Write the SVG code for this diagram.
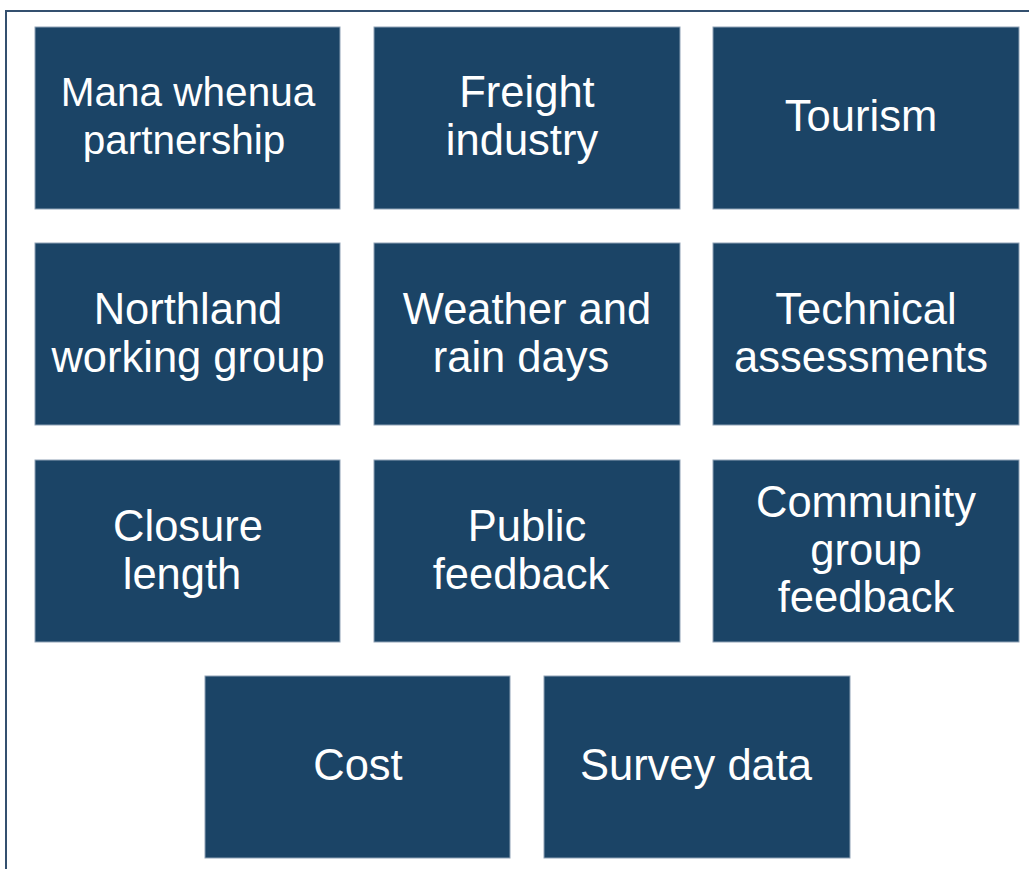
<svg xmlns="http://www.w3.org/2000/svg" width="1029" height="869" viewBox="0 0 1029 869">
<style>
.b{fill:#1b4466;stroke:#8fa2b6;stroke-width:1}
.t{fill:#ffffff;font-family:"Liberation Sans",Arial,sans-serif;font-size:43.5px;text-anchor:middle}
.s{font-size:40.5px}
</style>
<rect width="1029" height="869" fill="#ffffff"/>
<rect x="6" y="11" width="1100" height="1000" fill="none" stroke="#34506f" stroke-width="2"/>
<g id="n1"><rect class="b" x="35" y="27" width="305" height="182"/><text class="t s" x="188" y="106">Mana whenua</text><text class="t s" x="184" y="154">partnership</text></g>
<g id="n2"><rect class="b" x="374" y="27" width="306" height="182"/><text class="t" x="527" y="107">Freight</text><text class="t" x="522" y="155">industry</text></g>
<g id="n3"><rect class="b" x="713" y="27" width="306" height="182"/><text class="t" x="861" y="131">Tourism</text></g>
<g id="n4"><rect class="b" x="35" y="243" width="305" height="182"/><text class="t" x="188" y="324">Northland</text><text class="t" x="188" y="372">working group</text></g>
<g id="n5"><rect class="b" x="374" y="243" width="306" height="182"/><text class="t" x="527" y="324">Weather and</text><text class="t" x="521" y="372">rain days</text></g>
<g id="n6"><rect class="b" x="713" y="243" width="306" height="182"/><text class="t" x="866" y="324">Technical</text><text class="t" x="861" y="372">assessments</text></g>
<g id="n7"><rect class="b" x="35" y="460" width="305" height="182"/><text class="t" x="188" y="541">Closure</text><text class="t" x="182" y="589">length</text></g>
<g id="n8"><rect class="b" x="374" y="460" width="306" height="182"/><text class="t" x="527" y="541">Public</text><text class="t" x="521" y="589">feedback</text></g>
<g id="n9"><rect class="b" x="713" y="460" width="306" height="182"/><text class="t" x="866" y="517">Community</text><text class="t" x="866" y="565">group</text><text class="t" x="866" y="612">feedback</text></g>
<g id="n10"><rect class="b" x="205" y="676" width="305" height="182"/><text class="t" x="358" y="780">Cost</text></g>
<g id="n11"><rect class="b" x="544" y="676" width="306" height="182"/><text class="t" x="696" y="780">Survey data</text></g>
<g id="connectors"></g>
</svg>
